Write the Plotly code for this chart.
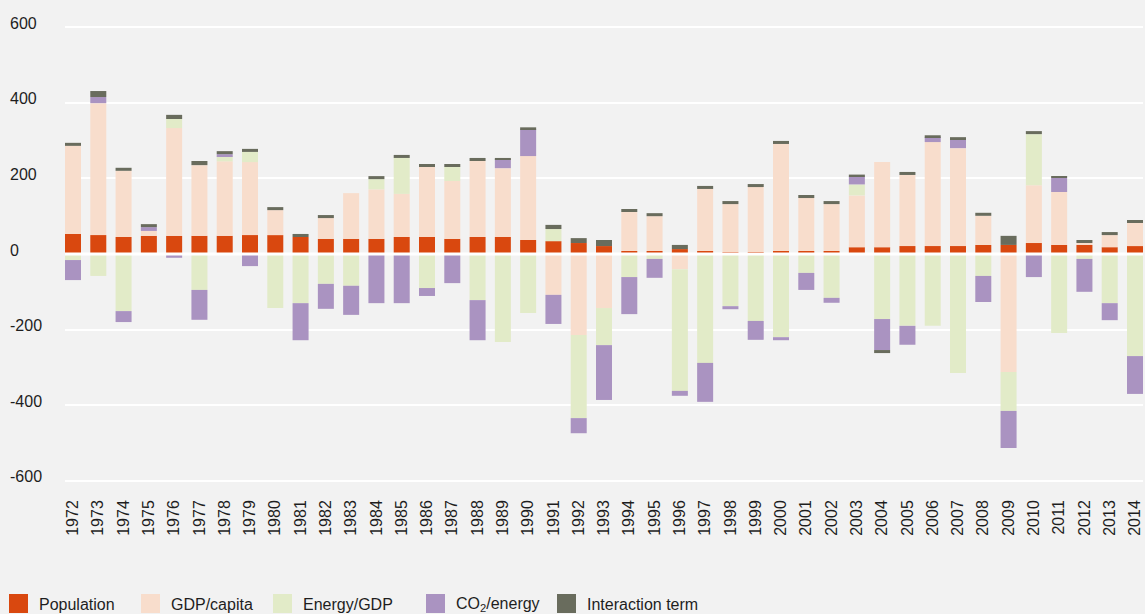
import plotly.graph_objects as go

# Decomposition of annual change in CO2 emissions, 1972-2014
years = [str(y) for y in range(1972, 2015)]

population = [53, 50, 45, 48, 48, 48, 48, 50, 50, 45, 40, 40, 40, 45, 45, 40, 45, 45, 37, 34,
              29, 21, 8, 8, 13, 8, 5, 5, 8, 8, 8, 18, 18, 21, 21, 21, 24, 24, 29, 24, 24, 18, 21]

gdp_per_capita = [233, 349, 175, 13, 285, 187, 197, 193, 66, 0, 55, 121, 131, 114, 185, 153, 201, 182,
                  222, -108, -214, -143, 103, 92, -40, 164, 127, 172, 283, 140, 124, 137, 225, 188,
                  275, 259, 77, -312, 153, 140, 5, 32, 61]

energy_per_gdp = [-16, -58, -151, 0, 24, -95, 14, 27, -143, -130, -79, -84, 27, 95, -90, 37, -122,
                  -233, -156, 32, -220, -98, -61, -13, -322, -288, -138, -177, -220, -50, -116, 29,
                  -172, -190, -190, -315, -58, -103, 135, -209, -13, -130, -270]

co2_per_energy = [-53, 16, -29, 10, -10, -79, 5, -32, 0, -98, -66, -77, -130, -130, -21, -77, -106,
                  24, 71, -77, -40, -145, -98, -50, -13, -103, -8, -50, -8, -45, -13, 21, -82, -50,
                  13, 24, -69, -98, -61, 37, -87, -45, -100]

interaction = [8, 16, 8, 8, 11, 11, 8, 8, 8, 8, 8, 0, 8, 8, 8, 8, 8, 3, 5, 11, 13, 16, 8, 8, 11, 8,
               8, 8, 8, 8, 8, 5, -8, 8, 5, 5, 8, 24, 8, 5, 8, 8, 8]

y_ticks = [600, 400, 200, 0, -200, -400, -600]

series = [
    ("Population", population, "#D9480F"),
    ("GDP/capita", gdp_per_capita, "#F8DDCC"),
    ("Energy/GDP", energy_per_gdp, "#E2EBC8"),
    ("CO<sub>2</sub>/energy", co2_per_energy, "#AA93C1"),
    ("Interaction term", interaction, "#696C5D"),
]

FONT = "Liberation Sans, Arial, Helvetica, sans-serif"
TEXT = "#1E1E1E"
BG = "#F2F2F2"

W, H = 1145, 614
L, R, T, B = 65, 2, 12, 118
plot_w = W - L - R

fig = go.Figure()
for name, vals, color in series:
    fig.add_trace(go.Bar(
        x=years, y=vals, name=name,
        marker=dict(color=color, line=dict(width=0)),
        showlegend=False,
    ))

# white zero line drawn over the bars
fig.add_shape(type="line", xref="paper", yref="y", x0=0, x1=1, y0=0, y1=0,
              line=dict(color="white", width=3), layer="above")

# y tick labels, left aligned at the page edge
for v in y_ticks:
    fig.add_annotation(x=0, xref="paper", y=v, yref="y", text=str(v), showarrow=False,
                       xanchor="left", yanchor="middle", xshift=-(L - 8), yshift=4,
                       font=dict(family=FONT, size=16, color=TEXT))

# legend row along the bottom
legend_px = [9, 141, 273, 426, 557]
sw = 19
for (name, _, color), px in zip(series, legend_px):
    x0 = (px - L) / plot_w
    x1 = (px + sw - L) / plot_w
    fig.add_shape(type="rect", xref="paper", yref="paper",
                  x0=x0, x1=x1, y0=-(594 - (H - B)) / (H - T - B), y1=-(613 - (H - B)) / (H - T - B),
                  line=dict(width=0), fillcolor=color, layer="above")
    fig.add_annotation(x=(px + sw + 9 - L) / plot_w, xref="paper",
                       y=-(604 - (H - B)) / (H - T - B), yref="paper",
                       text=name, showarrow=False, xanchor="left", yanchor="middle",
                       font=dict(family=FONT, size=16, color=TEXT))

fig.update_layout(
    width=W, height=H,
    margin=dict(l=L, r=R, t=T, b=B),
    paper_bgcolor=BG, plot_bgcolor=BG,
    barmode="relative",
    bargap=0.367,
    font=dict(family=FONT, size=16, color=TEXT),
    xaxis=dict(
        type="category", range=[-0.3165, 42.3165],
        tickangle=-90, showgrid=False, zeroline=False, showline=False,
        ticks="", tickfont=dict(family=FONT, size=16, color=TEXT),
    ),
    yaxis=dict(
        range=[-640, 640], tickvals=y_ticks, showticklabels=False,
        showgrid=True, gridcolor="white", gridwidth=2,
        zeroline=False, showline=False, ticks="",
    ),
)

fig.write_html("out.html")
